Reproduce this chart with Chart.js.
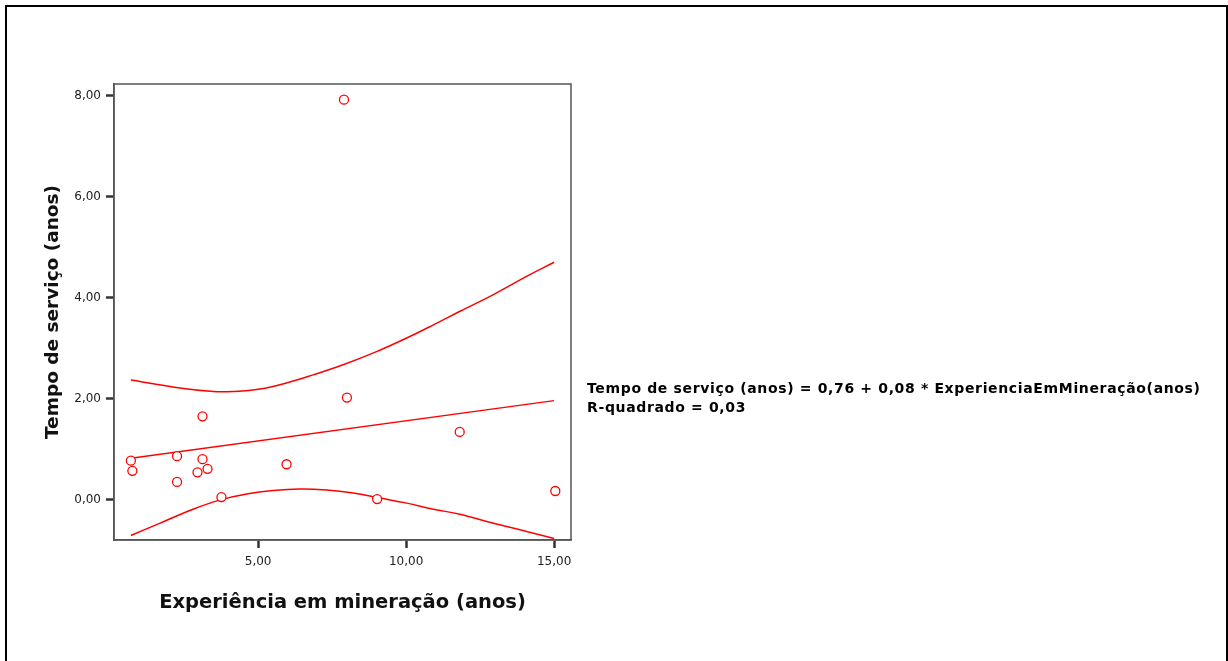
<!DOCTYPE html>
<html>
<head>
<meta charset="utf-8">
<script src="https://cdn.jsdelivr.net/npm/chart.js@4/dist/chart.umd.min.js"></script>
<style>
    html, body { margin: 0; padding: 0; background: #fff; overflow: hidden; }
    #frame {
        position: absolute; left: 5px; top: 5px;
        width: 1219px; height: 720px;
        border: 2px solid #000;
    }
    #chart { position: absolute; left: 0; top: 0; }
    #equation {
        position: absolute; left: 587px; top: 379px;
        font: bold 14px "DejaVu Sans", sans-serif;
        letter-spacing: 0.65px;
        line-height: 19px; color: #000; white-space: nowrap;
    }
</style>
</head>
<body>
<div id="frame"></div>
<canvas id="chart" width="1228" height="661"></canvas>
<div id="equation">
    <div>Tempo de serviço (anos) = 0,76 + 0,08 * ExperienciaEmMineração(anos)</div>
    <div>R-quadrado = 0,03</div>
</div>
<script>
// observed points
var experiencia = [7.90, 8.00, 3.12, 11.81, 0.70, 0.75, 2.26, 2.26, 3.12, 2.95, 3.29, 3.76, 5.96, 9.02, 15.04];
var tempoServico = [7.92, 2.02, 1.65, 1.34, 0.77, 0.57, 0.86, 0.35, 0.80, 0.54, 0.61, 0.05, 0.70, 0.01, 0.17];

// fitted line
var fitX = [0.70, 15.00];
var fitY = [0.82, 1.96];

// confidence band
var upperX = [0.70, 2.35, 3.48, 4.15, 5.06, 5.96, 6.86, 7.87, 9.00, 10.02, 10.92, 11.82, 12.95, 14.07, 15.00];
var upperY = [2.37, 2.21, 2.14, 2.14, 2.19, 2.31, 2.47, 2.67, 2.93, 3.20, 3.46, 3.73, 4.06, 4.42, 4.70];
var lowerX = [0.70, 1.67, 2.80, 3.70, 4.61, 5.51, 6.41, 7.31, 8.21, 9.11, 10.02, 10.92, 11.82, 12.95, 14.07, 15.00];
var lowerY = [-0.71, -0.47, -0.19, -0.01, 0.11, 0.18, 0.21, 0.19, 0.13, 0.03, -0.07, -0.19, -0.29, -0.47, -0.63, -0.77];

var xTicks = [5, 10, 15];
var yTicks = [0, 2, 4, 6, 8];

function pairs(xs, ys) {
    return xs.map(function (x, i) { return { x: x, y: ys[i] }; });
}

function fmt(v) {
    return v.toFixed(2).replace('.', ',');
}

var red = '#ff0000';

var plotFrame = {
    id: 'plotFrame',
    afterDraw: function (chart) {
        var a = chart.chartArea, ctx = chart.ctx;
        ctx.save();
        ctx.strokeStyle = '#555';
        ctx.lineWidth = 1.5;
        ctx.strokeRect(a.left, a.top, a.right - a.left, a.bottom - a.top);
        ctx.restore();
    }
};

var lineStyle = {
    showLine: true,
    borderColor: red,
    borderWidth: 1.5,
    pointRadius: 0,
    tension: 0.4,
    fill: false,
};

var ctx = document.getElementById('chart').getContext('2d');
var chart = new Chart(ctx, {
    type: 'scatter',
    data: {
        datasets: [
            {
                label: 'Observado',
                data: pairs(experiencia, tempoServico),
                borderColor: red,
                backgroundColor: '#fff',
                borderWidth: 1.3,
                pointRadius: 4.5,
                order: 0,
            },
            Object.assign({ label: 'Linear', data: pairs(fitX, fitY), order: 1 }, lineStyle, { tension: 0 }),
            Object.assign({ label: 'Superior', data: pairs(upperX, upperY), order: 1 }, lineStyle),
            Object.assign({ label: 'Inferior', data: pairs(lowerX, lowerY), order: 1 }, lineStyle),
        ],
    },
    options: {
        responsive: false,
        animation: false,
        layout: { padding: { left: 0, top: 84, right: 657, bottom: 0 } },
        plugins: {
            legend: { display: false },
            tooltip: { enabled: false },
        },
        scales: {
            x: {
                type: 'linear',
                min: 0.13,
                max: 15.57,
                afterBuildTicks: function (scale) {
                    scale.ticks = xTicks.map(function (v) { return { value: v }; });
                },
                afterFit: function (scale) { scale.height = 121; },
                grid: { drawOnChartArea: false, tickLength: 8, tickWidth: 2.5, tickColor: '#333' },
                border: { color: '#555', width: 1.5 },
                ticks: {
                    padding: 7,
                    color: '#222',
                    font: { family: 'DejaVu Sans', size: 12 },
                    callback: function (v) { return fmt(v); },
                },
                title: {
                    display: true,
                    text: 'Experiência em mineração (anos)',
                    color: '#111',
                    font: { family: 'DejaVu Sans', size: 19.5, weight: 'bold' },
                    padding: { top: 0, bottom: 46 },
                },
            },
            y: {
                min: -0.80,
                max: 8.23,
                afterBuildTicks: function (scale) {
                    scale.ticks = yTicks.map(function (v) { return { value: v }; });
                },
                afterFit: function (scale) { scale.width = 114; },
                grid: { drawOnChartArea: false, tickLength: 8, tickWidth: 2.5, tickColor: '#333' },
                border: { color: '#555', width: 1.5 },
                ticks: {
                    padding: 5,
                    color: '#222',
                    font: { family: 'DejaVu Sans', size: 12 },
                    callback: function (v) { return fmt(v); },
                },
                title: {
                    display: true,
                    text: 'Tempo de serviço (anos)',
                    color: '#111',
                    font: { family: 'DejaVu Sans', size: 18.5, weight: 'bold' },
                    padding: { top: 42, bottom: 0 },
                },
            },
        },
    },
    plugins: [plotFrame],
});
</script>
</body>
</html>
